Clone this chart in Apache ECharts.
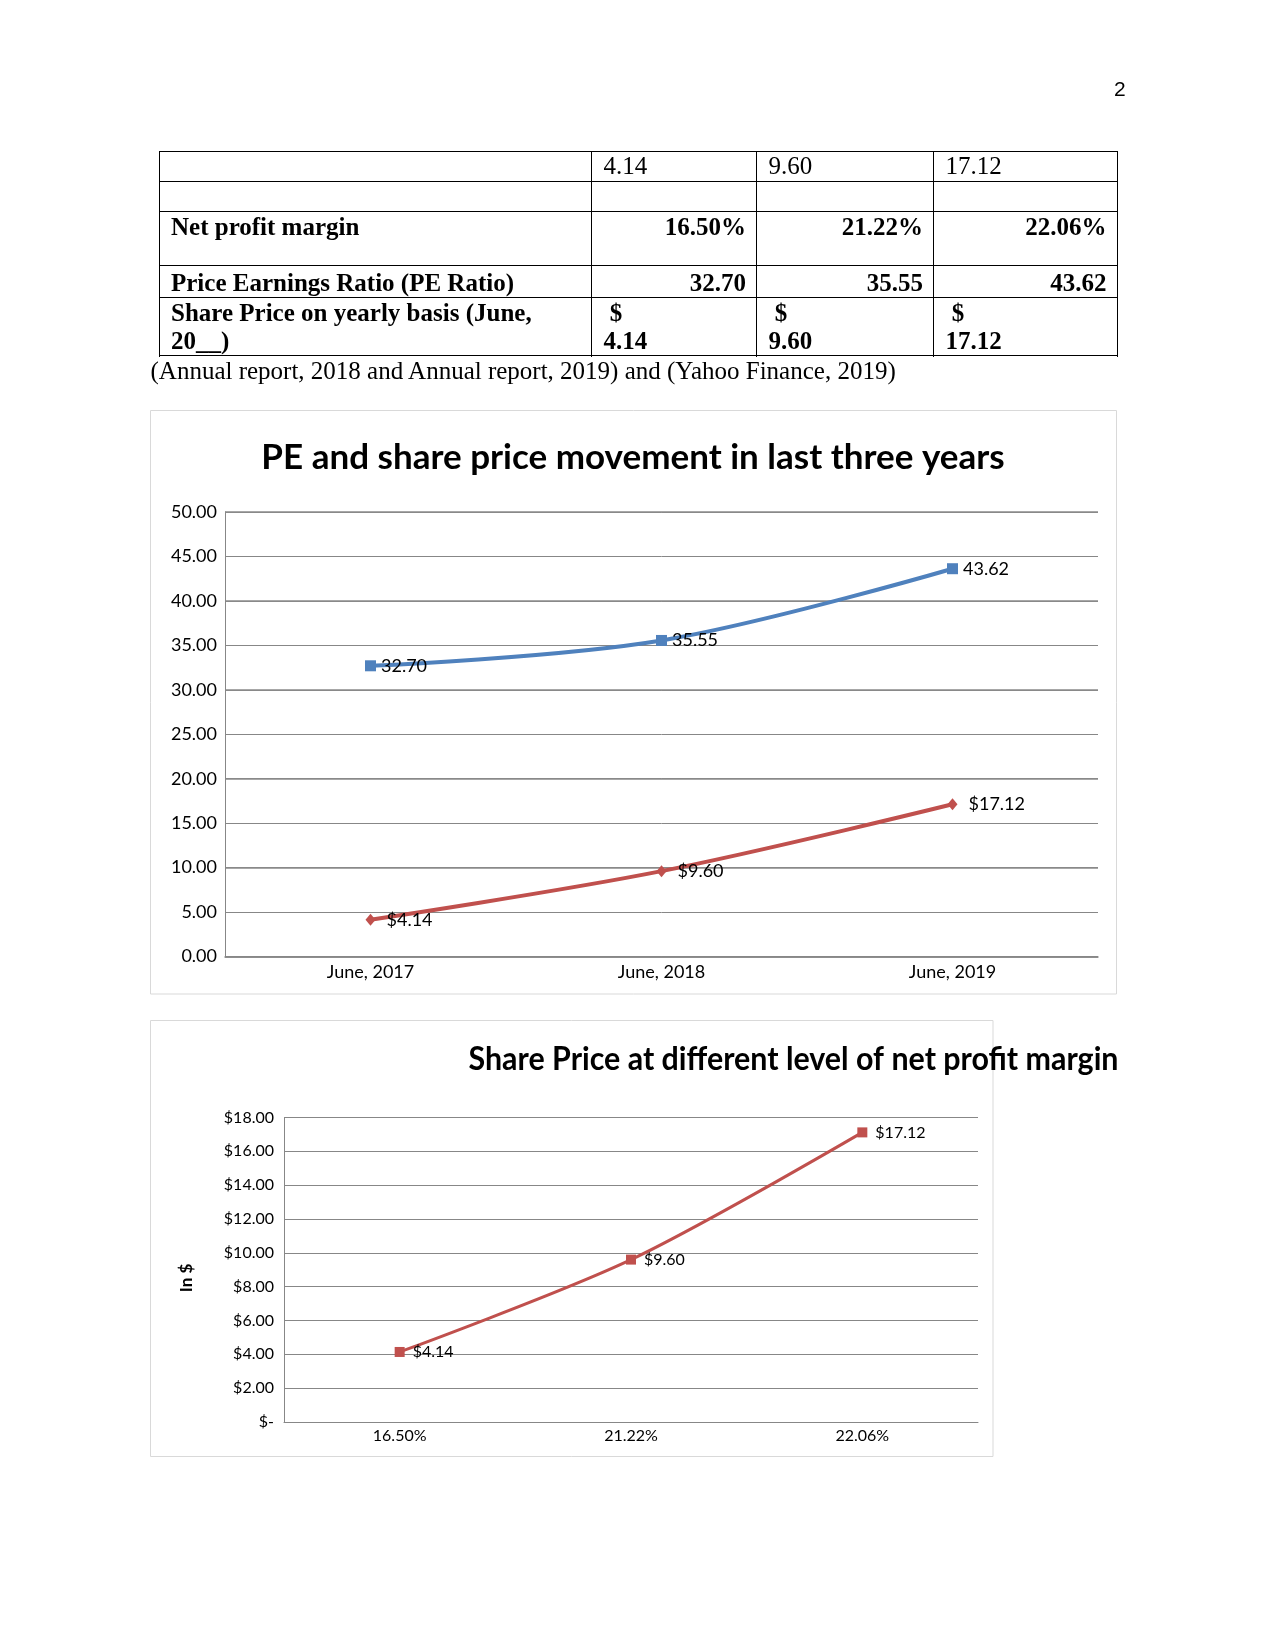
<!DOCTYPE html>
<html>
<head>
<meta charset="utf-8">
<script src="https://cdn.jsdelivr.net/npm/echarts@6/dist/echarts.min.js"></script>
<style>
  html, body { margin:0; padding:0; background:#fff; }
  #page { position:relative; width:1275px; height:1651px; overflow:hidden; }
  #chart { position:absolute; left:0; top:0; width:1275px; height:1651px; z-index:1; }
  .doc { position:absolute; z-index:2; font-family:"Liberation Serif","Times New Roman",serif; font-size:25px; line-height:27.5px; color:#000; white-space:nowrap; }
  .b { font-weight:bold; }
  .hl { position:absolute; z-index:2; height:1px; background:#000; }
  .vl { position:absolute; z-index:2; width:1px; background:#000; }
  #pnum { position:absolute; z-index:2; font-family:"Liberation Sans",Arial,sans-serif; font-size:21px; left:1114px; top:77px; }
</style>
</head>
<body>
<div id="page">
  <div id="chart"></div>
  <div id="pnum">2</div>
</div>
<script>
// ---- data ----
const years = ['June, 2017', 'June, 2018', 'June, 2019'];
const peRatio = [32.70, 35.55, 43.62];
const sharePrice = [4.14, 9.60, 17.12];
const netProfitMargin = ['16.50%', '21.22%', '22.06%'];
const peTickMin = 0, peTickMax = 50, peTickStep = 5;
const priceTickMin = 0, priceTickMax = 18, priceTickStep = 2;
const chart1Title = 'PE and share price movement in last three years';
const chart2Title = 'Share Price at different level of net profit margin';
const chart2AxisName = 'In $';
const rowLabels = ['', '', 'Net profit margin', 'Price Earnings Ratio (PE Ratio)', 'Share Price on yearly basis (June,<br>20__)'];
const caption = '(Annual report, 2018 and Annual report, 2019) and (Yahoo Finance, 2019)';

// ---- table (HTML) ----
const page = document.getElementById('page');
const colX = [158.5, 591, 756, 933, 1116.5];
const rowY = [150.7, 180.5, 210.7, 265.3, 297, 355.3];
const rowTextOff = [1, 1, 2, 4, 2];
function add(html, cls, style) {
  const d = document.createElement('div');
  d.className = cls; d.innerHTML = html;
  Object.assign(d.style, style); page.appendChild(d);
}
rowY.forEach(y => add('', 'hl', { left: Math.round(colX[0]) + 'px', top: Math.round(y) + 'px', width: Math.round(colX[4] - colX[0] + 1) + 'px' }));
colX.forEach(x => add('', 'vl', { left: Math.round(x) + 'px', top: Math.round(rowY[0]) + 'px', height: Math.round(rowY[5] - rowY[0] + 1) + 'px' }));
function cell(r, c, html, align, bold) {
  const x0 = colX[c], x1 = colX[c + 1];
  const style = { top: (rowY[r] + rowTextOff[r]) + 'px' };
  if (align === 'right') { style.right = (1275 - x1 + 10) + 'px'; style.textAlign = 'right'; }
  else { style.left = (x0 + 12.5) + 'px'; }
  add(html, 'doc' + (bold ? ' b' : ''), style);
}
sharePrice.forEach((v, i) => cell(0, i + 1, v.toFixed(2), 'left', false));
rowLabels.forEach((t, r) => { if (t) cell(r, 0, t, 'left', true); });
netProfitMargin.forEach((t, i) => cell(2, i + 1, t, 'right', true));
peRatio.forEach((v, i) => cell(3, i + 1, v.toFixed(2), 'right', true));
sharePrice.forEach((v, i) => cell(4, i + 1, '&nbsp;$<br>' + v.toFixed(2), 'left', true));
add(caption, 'doc', { left: '150.5px', top: '357px' });

// ---- charts ----
const chart = echarts.init(document.getElementById('chart'), null, { renderer: 'canvas' });
const font = 'Lato';
const gridColor = '#878787';
const blue = '#4F81BD', red = '#C0504D';

chart.setOption({
  animation: false,
  textStyle: { fontFamily: font },
  title: [{
    text: chart1Title, left: 628, top: 435, textAlign: 'center',
    textStyle: { fontFamily: font, fontWeight: 'bold', fontSize: 35, color: '#000' }
  }],
  graphic: [
    { type: 'rect', shape: { x: 150.5, y: 410.5, width: 966, height: 583.5 }, style: { fill: 'none', stroke: '#D9D9D9', lineWidth: 1 }, z: -1 },
    { type: 'rect', shape: { x: 150.5, y: 1020.5, width: 842.5, height: 436 }, style: { fill: 'none', stroke: '#D9D9D9', lineWidth: 1 }, z: -1 },
    { type: 'text', x: 468.5, y: 1060, scaleX: 0.95, style: { text: chart2Title, fontFamily: font, fontWeight: 'bold', fontSize: 32, fill: '#000', textAlign: 'left', textVerticalAlign: 'middle' } },
    { type: 'text', x: 187, y: 1278, rotation: Math.PI / 2, style: { text: chart2AxisName, fontFamily: font, fontWeight: 'bold', fontSize: 17, fill: '#000', textAlign: 'center', textVerticalAlign: 'middle' } }
  ],
  grid: [
    { left: 225, top: 512, width: 873, height: 444.5 },
    { left: 284, top: 1117.5, width: 694, height: 304.5 }
  ],
  xAxis: [
    { type: 'category', gridIndex: 0, data: years, boundaryGap: true,
      axisLine: { lineStyle: { color: gridColor, width: 1.5 } }, axisTick: { show: false },
      axisLabel: { color: '#000', fontSize: 18, margin: 7 } },
    { type: 'category', gridIndex: 1, data: netProfitMargin, boundaryGap: true,
      axisLine: { lineStyle: { color: gridColor, width: 1 } }, axisTick: { show: false },
      axisLabel: { color: '#000', fontSize: 16, margin: 6 } }
  ],
  yAxis: [
    { type: 'value', gridIndex: 0, min: peTickMin, max: peTickMax, interval: peTickStep,
      axisLine: { show: true, lineStyle: { color: gridColor } }, axisTick: { show: false },
      splitLine: { lineStyle: { color: gridColor, width: 1 } },
      axisLabel: { color: '#000', fontSize: 18, margin: 8, formatter: v => v.toFixed(2) } },
    { type: 'value', gridIndex: 1, min: priceTickMin, max: priceTickMax, interval: priceTickStep,
      axisLine: { show: true, lineStyle: { color: gridColor } }, axisTick: { show: false },
      splitLine: { lineStyle: { color: gridColor, width: 1 } },
      axisLabel: { color: '#000', fontSize: 16, margin: 10, formatter: v => v === 0 ? '$-' : '$' + v.toFixed(2) } },
    { type: 'value', gridIndex: 0, min: peTickMin, max: peTickMax, interval: peTickStep * 2,
      axisLine: { show: false }, axisTick: { show: false }, axisLabel: { show: false },
      splitLine: { lineStyle: { color: '#8a8a8a', width: 1.6 } } }
  ],
  series: [
    { type: 'line', xAxisIndex: 0, yAxisIndex: 0, data: peRatio, smooth: 0.35,
      symbol: 'rect', symbolSize: 11, lineStyle: { color: blue, width: 4 }, itemStyle: { color: blue },
      label: { show: true, position: 'right', distance: 5, color: '#000', fontSize: 18, fontFamily: font, formatter: p => p.value.toFixed(2) } },
    { type: 'line', xAxisIndex: 0, yAxisIndex: 0, data: sharePrice, smooth: 0.35,
      symbol: 'diamond', symbolSize: [10, 12], lineStyle: { color: red, width: 4 }, itemStyle: { color: red },
      label: { show: true, position: 'right', distance: 11, color: '#000', fontSize: 18, fontFamily: font, formatter: p => '$' + p.value.toFixed(2) } },
    { type: 'line', xAxisIndex: 1, yAxisIndex: 1, data: sharePrice, smooth: 0.3,
      symbol: 'rect', symbolSize: 10, lineStyle: { color: red, width: 3 }, itemStyle: { color: red },
      label: { show: true, position: 'right', distance: 8, color: '#000', fontSize: 16, fontFamily: font, formatter: p => '$' + p.value.toFixed(2) } }
  ]
});
</script>
</body>
</html>
